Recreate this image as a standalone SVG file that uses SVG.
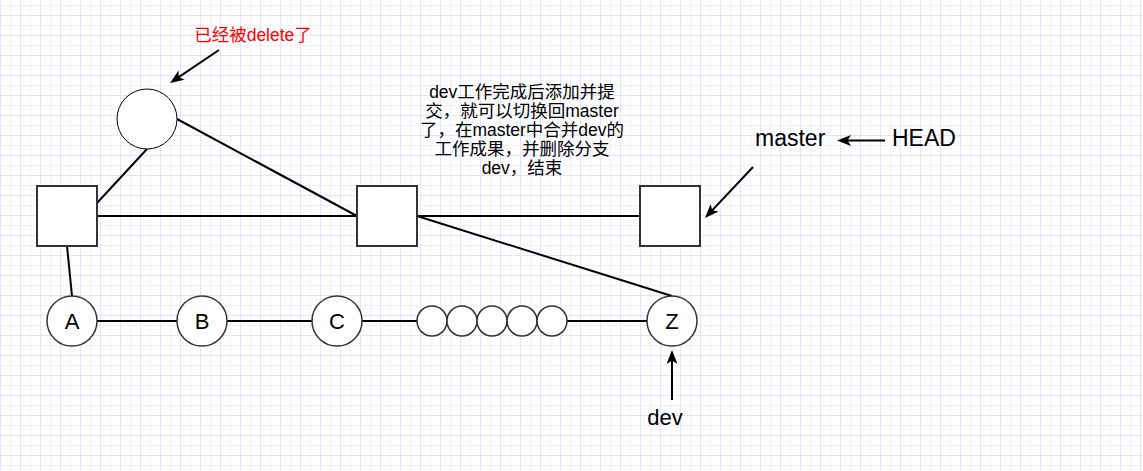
<svg xmlns="http://www.w3.org/2000/svg" width="1143" height="471" viewBox="0 0 1143 471">
<style>
.box{fill:#fff;stroke:#333;stroke-width:2}
.cir{fill:#fff;stroke:#333;stroke-width:1.5}
.edge{stroke:#000;stroke-width:2;fill:none}
.arr{stroke:#000;stroke-width:2;fill:none;marker-end:url(#ah)}
.t{font-family:"Liberation Sans","Noto Sans CJK SC",sans-serif;fill:#000}
.lbl{font-size:22px;text-anchor:middle}
.note{font-size:17.5px;text-anchor:middle}
</style>
<defs>
<pattern id="grid" patternUnits="userSpaceOnUse" x="0" y="5" width="20" height="20">
<rect x="10" y="0" width="1" height="20" fill="#f0f0fe"/>
<rect x="0" y="0" width="20" height="1" fill="#f0f0fe"/>
<rect x="0" y="0" width="1" height="20" fill="#e3e3fb"/>
<rect x="0" y="10" width="20" height="1" fill="#e3e3fb"/>
</pattern>
<marker id="ah" markerUnits="userSpaceOnUse" markerWidth="16" markerHeight="14" refX="8" refY="5.5" orient="auto">
<path d="M0,0 L14,5.5 L0,11 L3.5,5.5 Z" fill="#000"/>
</marker>
</defs>
<rect width="1143" height="471" fill="#fff"/>
<rect width="1143" height="471" fill="url(#grid)"/>
<g id="connectors">
<line class="edge" x1="97" y1="203" x2="147" y2="149"/>
<line class="edge" x1="177" y1="119" x2="357" y2="216"/>
<line class="edge" x1="97" y1="216" x2="357" y2="216"/>
<line class="edge" x1="417" y1="216" x2="640" y2="216"/>
<line class="edge" x1="417" y1="216" x2="672" y2="296"/>
<line class="edge" x1="67" y1="246" x2="72" y2="296"/>
<line class="edge" x1="97" y1="321" x2="177" y2="321"/>
<line class="edge" x1="227" y1="321" x2="312" y2="321"/>
<line class="edge" x1="362" y1="321" x2="417" y2="321"/>
<line class="edge" x1="567" y1="321" x2="647" y2="321"/>
<line class="arr" x1="219" y1="50" x2="175" y2="79.6"/>
<line class="arr" x1="753" y1="167" x2="709.1" y2="213.6"/>
<line class="arr" x1="885" y1="140.5" x2="843" y2="140.5"/>
<line class="arr" x1="672" y1="400" x2="672" y2="356"/>
</g>
<g id="deleted">
<circle cx="147" cy="119" r="30" fill="#fff" stroke="#000" stroke-width="1"/>
</g>
<g id="sq1"><rect class="box" x="37" y="186" width="60" height="60"/></g>
<g id="sq2"><rect class="box" x="357" y="186" width="60" height="60"/></g>
<g id="sq3"><rect class="box" x="640" y="186" width="60" height="60"/></g>
<g id="A"><circle class="cir" cx="72" cy="321" r="25"/><text class="t lbl" x="72" y="329">A</text></g>
<g id="B"><circle class="cir" cx="202" cy="321" r="25"/><text class="t lbl" x="202" y="329">B</text></g>
<g id="C"><circle class="cir" cx="337" cy="321" r="25"/><text class="t lbl" x="337" y="329">C</text></g>
<g id="small">
<circle class="cir" cx="432" cy="321" r="15"/>
<circle class="cir" cx="462" cy="321" r="15"/>
<circle class="cir" cx="492" cy="321" r="15"/>
<circle class="cir" cx="522" cy="321" r="15"/>
<circle class="cir" cx="552" cy="321" r="15"/>
</g>
<g id="Z"><circle class="cir" cx="672" cy="321" r="25"/><text class="t lbl" x="672" y="329">Z</text></g>
<g id="labels">
<text class="t note" x="253" y="41" style="fill:#ff0000">已经被delete了</text>
<text class="t note" x="522" y="98">dev工作完成后添加并提</text>
<text class="t note" x="522" y="117">交，就可以切换回master</text>
<text class="t note" x="522" y="136">了，在master中合并dev的</text>
<text class="t note" x="522" y="155">工作成果，并删除分支</text>
<text class="t note" x="522" y="174">dev，结束</text>
<text class="t" x="755" y="146" font-size="23">master</text>
<text class="t" x="892" y="146" font-size="23">HEAD</text>
<text class="t lbl" x="665" y="425">dev</text>
</g>
</svg>
